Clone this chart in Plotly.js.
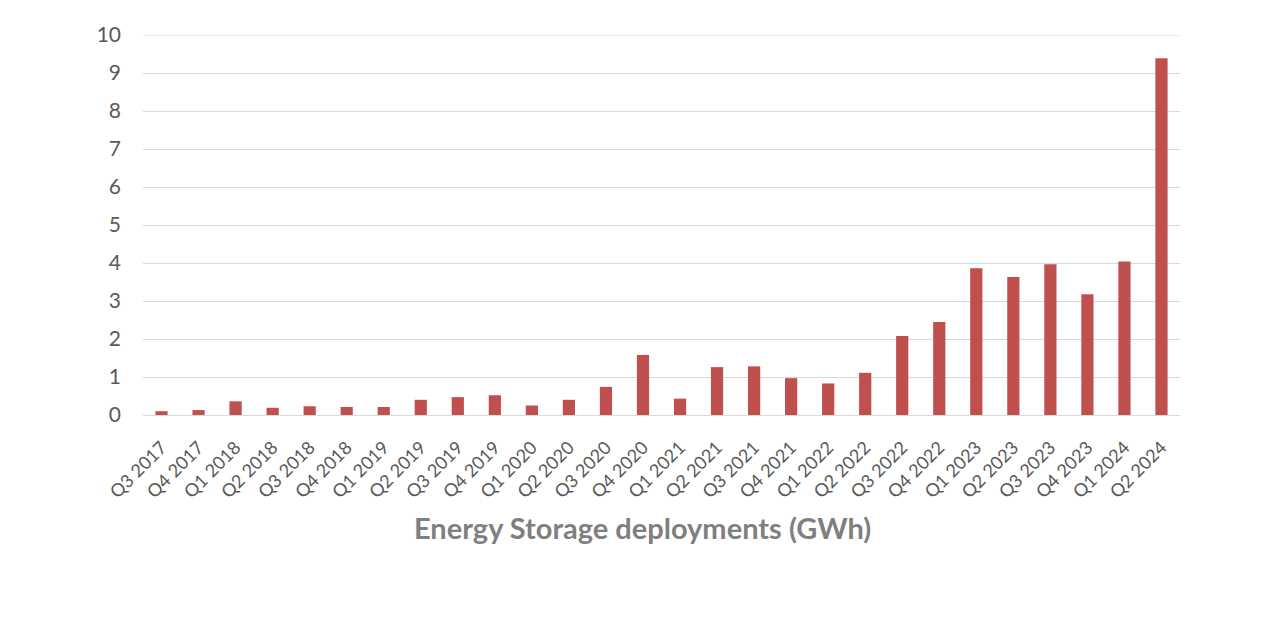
<!DOCTYPE html>
<html><head><meta charset="utf-8">
<script src="https://cdn.plot.ly/plotly-3.0.1.min.js"></script>
<style>html,body{margin:0;padding:0;background:#fff;}#chart{width:1284px;height:643px;}</style>
</head><body><div id="chart"></div>
<script>
const quarters = ["Q3 2017","Q4 2017","Q1 2018","Q2 2018","Q3 2018","Q4 2018","Q1 2019","Q2 2019","Q3 2019","Q4 2019","Q1 2020","Q2 2020","Q3 2020","Q4 2020","Q1 2021","Q2 2021","Q3 2021","Q4 2021","Q1 2022","Q2 2022","Q3 2022","Q4 2022","Q1 2023","Q2 2023","Q3 2023","Q4 2023","Q1 2024","Q2 2024"];
const deploymentsGWh = [0.10,0.13,0.36,0.19,0.23,0.21,0.21,0.40,0.47,0.52,0.25,0.40,0.74,1.58,0.43,1.26,1.28,0.97,0.83,1.11,2.08,2.45,3.86,3.63,3.97,3.18,4.04,9.39];
const yTicks = [0,1,2,3,4,5,6,7,8,9,10];
const yMax = 10;
const axisTitle = "Energy Storage deployments (GWh)";

Plotly.newPlot('chart', [{
  type: 'bar',
  x: quarters,
  y: deploymentsGWh,
  marker: {color: '#c0504d'},
  hoverinfo: 'x+y'
}], {
  width: 1284, height: 643,
  margin: {l: 143, r: 104, t: 35, b: 228},
  paper_bgcolor: '#fff', plot_bgcolor: '#fff',
  bargap: 0.67,
  showlegend: false,
  font: {family: 'Lato, "Open Sans", sans-serif', color: '#595959'},
  xaxis: {
    type: 'category',
    tickangle: -45,
    tickfont: {size: 18, color: '#595959'},
    ticklabelstandoff: 14,
    showgrid: false,
    showline: true, linecolor: '#d9d9d9', linewidth: 1,
    ticks: ''
  },
  yaxis: {
    range: [0, yMax],
    tickvals: yTicks,
    tickfont: {size: 21, color: '#595959'},
    showgrid: true, gridcolor: '#d9d9d9', gridwidth: 1,
    zeroline: false,
    showline: false,
    ticks: '',
    ticklabelstandoff: 21
  },
  annotations: [{
    text: axisTitle, xref: 'paper', yref: 'paper', x: 0.482, y: -0.295,
    xanchor: 'center', yanchor: 'middle', showarrow: false,
    font: {size: 29, color: '#7f7f7f', family: 'Lato, "Open Sans", sans-serif', weight: 'bold'}
  }],
  shapes: [{type: 'line', xref: 'paper', yref: 'y', x0: 0, x1: 1, y0: yMax, y1: yMax, line: {color: '#d9d9d9', width: 1}, layer: 'below'}]
}, {displayModeBar: false, staticPlot: true});
</script></body></html>
